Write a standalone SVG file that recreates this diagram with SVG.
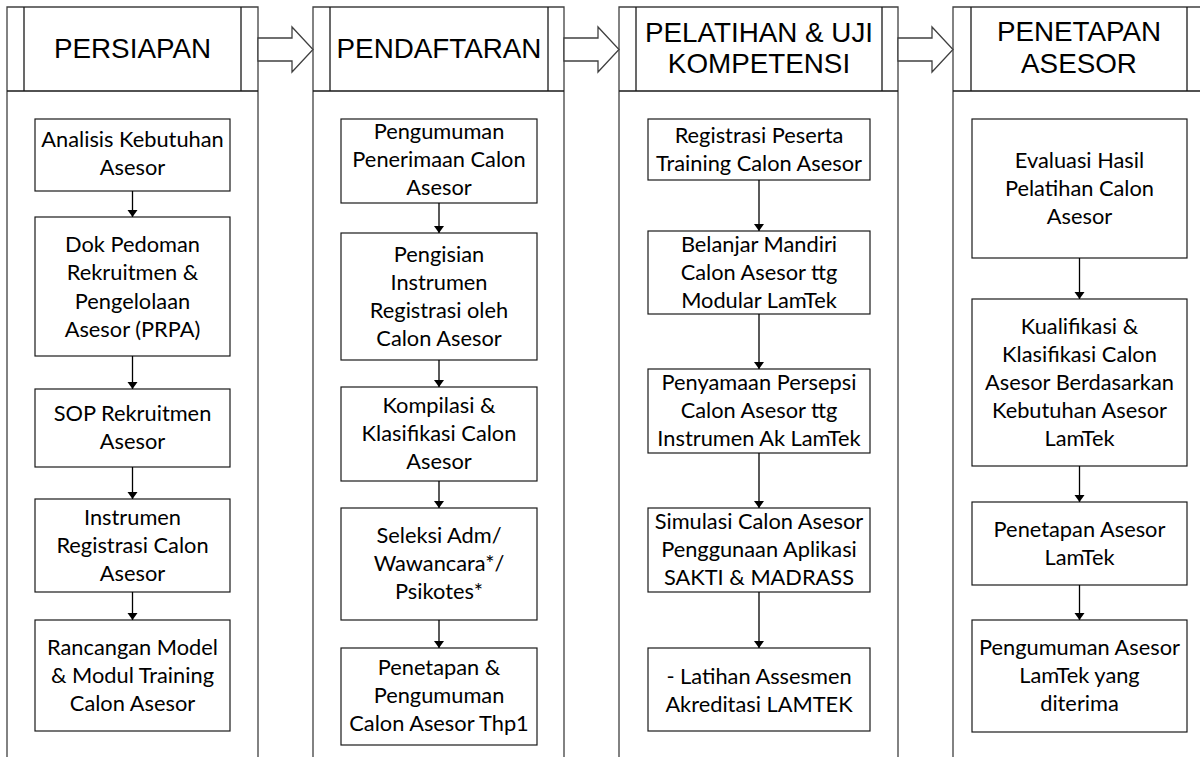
<svg xmlns="http://www.w3.org/2000/svg" width="1200" height="757" viewBox="0 0 1200 757">
<defs>
<style>
.frame{fill:none;stroke:#404040;stroke-width:1.3}
.hline{fill:none;stroke:#1a1a1a;stroke-width:1.3}
.big{fill:#fff;stroke:#404040;stroke-width:1.3;stroke-linejoin:miter}
.box{fill:#fff;stroke:#1a1a1a;stroke-width:1.2}
.ht{font-family:"Liberation Sans",Arial,sans-serif;font-size:27.8px;fill:#000;text-anchor:middle}
.bt{font-family:Lato,"Open Sans",sans-serif;font-size:21.8px;fill:#000;text-anchor:middle}
.conn{stroke:#000;stroke-width:1.3;fill:none;marker-end:url(#ah)}
</style>
<marker id="ah" markerUnits="userSpaceOnUse" markerWidth="8" markerHeight="12" refX="7" refY="5" orient="auto" viewBox="0 0 8 10">
<path d="M0,0 L7,5 L0,10 z" fill="#000"/>
</marker>
</defs>
<rect width="1200" height="757" fill="#fff"/>

<g id="col-persiapan">
<path class="frame" d="M7,760 V7 H258 V760"/>
<path class="hline" d="M7,91 H258 M24,7 V91 M241,7 V91"/>
<text class="ht" x="132.5" y="58">PERSIAPAN</text>
</g>
<g id="col-pendaftaran">
<path class="frame" d="M313,760 V7 H564 V760"/>
<path class="hline" d="M313,91 H564 M330,7 V91 M548,7 V91"/>
<text class="ht" x="439" y="58">PENDAFTARAN</text>
</g>
<g id="col-pelatihan">
<path class="frame" d="M619,760 V7 H898 V760"/>
<path class="hline" d="M619,91 H898 M636,7 V91 M882,7 V91"/>
<text class="ht" x="759" y="42">PELATIHAN &amp; UJI</text>
<text class="ht" x="759" y="73">KOMPETENSI</text>
</g>
<g id="col-penetapan">
<path class="frame" d="M953,760 V7 H1204 V760"/>
<path class="hline" d="M953,91 H1204 M971,7 V91 M1187,7 V91"/>
<text class="ht" x="1079" y="41">PENETAPAN</text>
<text class="ht" x="1079" y="73">ASESOR</text>
</g>

<g id="phase-arrows">
<polygon class="big" points="258,38 292,38 292,27 313,49.5 292,72 292,61 258,61"/>
<polygon class="big" points="564,38 598,38 598,27 619,49.5 598,72 598,61 564,61"/>
<polygon class="big" points="898,38 932,38 932,27 953,49.5 932,72 932,61 898,61"/>
</g>

<g id="c1b1"><rect class="box" x="35" y="119" width="195" height="72"/>
<text class="bt" x="132.5"><tspan x="132.5" y="147">Analisis Kebutuhan</tspan><tspan x="132.5" y="175">Asesor</tspan></text></g>
<g id="c1b2"><rect class="box" x="35" y="217" width="195" height="139"/>
<text class="bt"><tspan x="132.5" y="252">Dok Pedoman</tspan><tspan x="132.5" y="280">Rekruitmen &amp;</tspan><tspan x="132.5" y="308.5">Pengelolaan</tspan><tspan x="132.5" y="337">Asesor (PRPA)</tspan></text></g>
<g id="c1b3"><rect class="box" x="35" y="389" width="195" height="78"/>
<text class="bt"><tspan x="132.5" y="421">SOP Rekruitmen</tspan><tspan x="132.5" y="449">Asesor</tspan></text></g>
<g id="c1b4"><rect class="box" x="35" y="499" width="195" height="93"/>
<text class="bt"><tspan x="132.5" y="525">Instrumen</tspan><tspan x="132.5" y="553">Registrasi Calon</tspan><tspan x="132.5" y="581">Asesor</tspan></text></g>
<g id="c1b5"><rect class="box" x="35" y="620" width="195" height="111"/>
<text class="bt"><tspan x="132.5" y="655">Rancangan Model</tspan><tspan x="132.5" y="683">&amp; Modul Training</tspan><tspan x="132.5" y="711">Calon Asesor</tspan></text></g>

<g id="c2b1"><rect class="box" x="341" y="119" width="196" height="84"/>
<text class="bt"><tspan x="439" y="139">Pengumuman</tspan><tspan x="439" y="167">Penerimaan Calon</tspan><tspan x="439" y="195">Asesor</tspan></text></g>
<g id="c2b2"><rect class="box" x="341" y="233" width="196" height="127"/>
<text class="bt"><tspan x="439" y="262">Pengisian</tspan><tspan x="439" y="290">Instrumen</tspan><tspan x="439" y="318">Registrasi oleh</tspan><tspan x="439" y="346">Calon Asesor</tspan></text></g>
<g id="c2b3"><rect class="box" x="341" y="387" width="196" height="94"/>
<text class="bt"><tspan x="439" y="413">Kompilasi &amp;</tspan><tspan x="439" y="441">Klasifikasi Calon</tspan><tspan x="439" y="469">Asesor</tspan></text></g>
<g id="c2b4"><rect class="box" x="341" y="508" width="196" height="112"/>
<text class="bt"><tspan x="439" y="543">Seleksi Adm/</tspan><tspan x="439" y="571">Wawancara*/</tspan><tspan x="439" y="599">Psikotes*</tspan></text></g>
<g id="c2b5"><rect class="box" x="341" y="648" width="196" height="97"/>
<text class="bt"><tspan x="439" y="675">Penetapan &amp;</tspan><tspan x="439" y="703">Pengumuman</tspan><tspan x="439" y="731">Calon Asesor Thp1</tspan></text></g>

<g id="c3b1"><rect class="box" x="648" y="119" width="222" height="61"/>
<text class="bt"><tspan x="759" y="143">Registrasi Peserta</tspan><tspan x="759" y="171">Training Calon Asesor</tspan></text></g>
<g id="c3b2"><rect class="box" x="648" y="231" width="222" height="83"/>
<text class="bt"><tspan x="759" y="252">Belanjar Mandiri</tspan><tspan x="759" y="280">Calon Asesor ttg</tspan><tspan x="759" y="308">Modular LamTek</tspan></text></g>
<g id="c3b3"><rect class="box" x="648" y="369" width="222" height="84"/>
<text class="bt"><tspan x="759" y="390">Penyamaan Persepsi</tspan><tspan x="759" y="418">Calon Asesor ttg</tspan><tspan x="759" y="446">Instrumen Ak LamTek</tspan></text></g>
<g id="c3b4"><rect class="box" x="648" y="508" width="222" height="84"/>
<text class="bt"><tspan x="759" y="529">Simulasi Calon Asesor</tspan><tspan x="759" y="557">Penggunaan Aplikasi</tspan><tspan x="759" y="585">SAKTI &amp; MADRASS</tspan></text></g>
<g id="c3b5"><rect class="box" x="648" y="648" width="222" height="83"/>
<text class="bt"><tspan x="759" y="684">- Latihan Assesmen</tspan><tspan x="759" y="712">Akreditasi LAMTEK</tspan></text></g>

<g id="c4b1"><rect class="box" x="972" y="119" width="215" height="139"/>
<text class="bt"><tspan x="1079.5" y="168">Evaluasi Hasil</tspan><tspan x="1079.5" y="196">Pelatihan Calon</tspan><tspan x="1079.5" y="224">Asesor</tspan></text></g>
<g id="c4b2"><rect class="box" x="972" y="299" width="215" height="167"/>
<text class="bt"><tspan x="1079.5" y="334">Kualifikasi &amp;</tspan><tspan x="1079.5" y="362">Klasifikasi Calon</tspan><tspan x="1079.5" y="390">Asesor Berdasarkan</tspan><tspan x="1079.5" y="418">Kebutuhan Asesor</tspan><tspan x="1079.5" y="446">LamTek</tspan></text></g>
<g id="c4b3"><rect class="box" x="972" y="502" width="215" height="83"/>
<text class="bt"><tspan x="1079.5" y="537">Penetapan Asesor</tspan><tspan x="1079.5" y="565">LamTek</tspan></text></g>
<g id="c4b4"><rect class="box" x="972" y="620" width="215" height="112"/>
<text class="bt"><tspan x="1079.5" y="655">Pengumuman Asesor</tspan><tspan x="1079.5" y="683">LamTek yang</tspan><tspan x="1079.5" y="711">diterima</tspan></text></g>

<g id="connectors">
<line class="conn" x1="132.5" y1="191" x2="132.5" y2="217"/>
<line class="conn" x1="132.5" y1="356" x2="132.5" y2="389"/>
<line class="conn" x1="132.5" y1="467" x2="132.5" y2="499"/>
<line class="conn" x1="132.5" y1="592" x2="132.5" y2="620"/>
<line class="conn" x1="439" y1="203" x2="439" y2="233"/>
<line class="conn" x1="439" y1="360" x2="439" y2="387"/>
<line class="conn" x1="439" y1="481" x2="439" y2="508"/>
<line class="conn" x1="439" y1="620" x2="439" y2="648"/>
<line class="conn" x1="759" y1="180" x2="759" y2="231"/>
<line class="conn" x1="759" y1="314" x2="759" y2="369"/>
<line class="conn" x1="759" y1="453" x2="759" y2="508"/>
<line class="conn" x1="759" y1="592" x2="759" y2="648"/>
<line class="conn" x1="1079.5" y1="258" x2="1079.5" y2="299"/>
<line class="conn" x1="1079.5" y1="466" x2="1079.5" y2="502"/>
<line class="conn" x1="1079.5" y1="585" x2="1079.5" y2="620"/>
</g>
</svg>
